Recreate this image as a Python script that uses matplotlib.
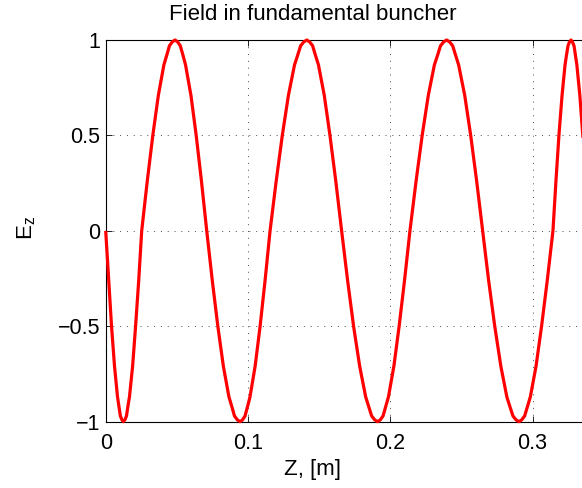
import matplotlib
matplotlib.use('Agg')
import matplotlib.pyplot as plt

# ---- data ----
z_m = [0.0000,
       0.0021, 0.0041, 0.0062, 0.0083, 0.0093, 0.0103, 0.0114, 0.0124,
       0.0135, 0.0146, 0.0156, 0.0167, 0.0189, 0.0210, 0.0232, 0.0253,
       0.0292, 0.0331, 0.0370, 0.0409, 0.0429, 0.0448, 0.0468, 0.0487,
       0.0506, 0.0524, 0.0543, 0.0561, 0.0599, 0.0636, 0.0673, 0.0710,
       0.0749, 0.0788, 0.0827, 0.0866, 0.0886, 0.0905, 0.0925, 0.0944,
       0.0962, 0.0979, 0.0997, 0.1014, 0.1050, 0.1085, 0.1120, 0.1155,
       0.1198, 0.1241, 0.1284, 0.1327, 0.1349, 0.1370, 0.1392, 0.1413,
       0.1433, 0.1454, 0.1474, 0.1495, 0.1536, 0.1576, 0.1617, 0.1658,
       0.1700, 0.1742, 0.1785, 0.1827, 0.1848, 0.1869, 0.1890, 0.1911,
       0.1930, 0.1949, 0.1968, 0.1987, 0.2025, 0.2062, 0.2100, 0.2138,
       0.2181, 0.2224, 0.2267, 0.2310, 0.2332, 0.2353, 0.2375, 0.2396,
       0.2417, 0.2438, 0.2459, 0.2480, 0.2523, 0.2565, 0.2607, 0.2649,
       0.2691, 0.2734, 0.2777, 0.2819, 0.2840, 0.2862, 0.2883, 0.2904,
       0.2924, 0.2944, 0.2964, 0.2984, 0.3024, 0.3063, 0.3103, 0.3143,
       0.3164, 0.3185, 0.3207, 0.3228, 0.3238, 0.3249, 0.3259, 0.3270,
       0.3280, 0.3291, 0.3301, 0.3311, 0.3332, 0.3353, 0.3374, 0.3394]

e_z = [0.00,
       -0.26, -0.50, -0.71, -0.87, -0.92, -0.97, -0.99, -1.00,
       -0.99, -0.97, -0.92, -0.87, -0.71, -0.50, -0.26, 0.00,
       0.26, 0.50, 0.71, 0.87, 0.92, 0.97, 0.99, 1.00,
       0.99, 0.97, 0.92, 0.87, 0.71, 0.50, 0.26, 0.00,
       -0.26, -0.50, -0.71, -0.87, -0.92, -0.97, -0.99, -1.00,
       -0.99, -0.97, -0.92, -0.87, -0.71, -0.50, -0.26, 0.00,
       0.26, 0.50, 0.71, 0.87, 0.92, 0.97, 0.99, 1.00,
       0.99, 0.97, 0.92, 0.87, 0.71, 0.50, 0.26, 0.00,
       -0.26, -0.50, -0.71, -0.87, -0.92, -0.97, -0.99, -1.00,
       -0.99, -0.97, -0.92, -0.87, -0.71, -0.50, -0.26, 0.00,
       0.26, 0.50, 0.71, 0.87, 0.92, 0.97, 0.99, 1.00,
       0.99, 0.97, 0.92, 0.87, 0.71, 0.50, 0.26, 0.00,
       -0.26, -0.50, -0.71, -0.87, -0.92, -0.97, -0.99, -1.00,
       -0.99, -0.97, -0.92, -0.87, -0.71, -0.50, -0.26, 0.00,
       0.26, 0.50, 0.71, 0.87, 0.92, 0.97, 0.99, 1.00,
       0.99, 0.97, 0.92, 0.87, 0.71, 0.50, 0.26, 0.00]

x_ticks = [0, 0.1, 0.2, 0.3]
x_tick_labels = ['0', '0.1', '0.2', '0.3']
y_ticks = [-1, -0.5, 0, 0.5, 1]
y_tick_labels = ['\u22121', '\u22120.5', '0', '0.5', '1']

title_text = 'Field in fundamental buncher'
x_label = 'Z, [m]'
y_label = 'E$_z$'

# ---- drawing ----
plt.rcParams['font.family'] = ['Liberation Sans', 'DejaVu Sans']
plt.rcParams['mathtext.default'] = 'regular'

W, H = 582, 488
fig = plt.figure(figsize=(W / 100, H / 100), dpi=100)
ax = fig.add_axes([105.7 / W, 66.3 / H, 569.2 / W, 381.7 / H])

ax.plot(z_m, e_z, color='#ff0000', lw=2.3, solid_joinstyle='round',
        solid_capstyle='butt', zorder=3, clip_on=False)

ax.set_xlim(0, 0.4)
ax.set_ylim(-1, 1)
ax.set_xticks(x_ticks)
ax.set_xticklabels(x_tick_labels)
ax.set_yticks(y_ticks)
ax.set_yticklabels(y_tick_labels)

ax.tick_params(direction='in', length=4, width=0.6, top=True, right=True,
               labelsize=15.5, colors='black')
ax.tick_params(axis='x', pad=8)
ax.tick_params(axis='y', pad=4)
for s in ax.spines.values():
    s.set_linewidth(0.8)
    s.set_color('black')

ax.grid(True, linestyle=(0, (1, 6)), linewidth=0.7, color='0.3')

fig.text(312.5 / W, 1 - 20 / H, title_text, ha='center', va='baseline', fontsize=16)
fig.text(312 / W, 1 - 475 / H, x_label, ha='center', va='baseline', fontsize=16)
fig.text(27 / W, 1 - 228 / H, y_label, ha='center', va='center', rotation=90, fontsize=16)

fig.savefig('out.png', dpi=100)
